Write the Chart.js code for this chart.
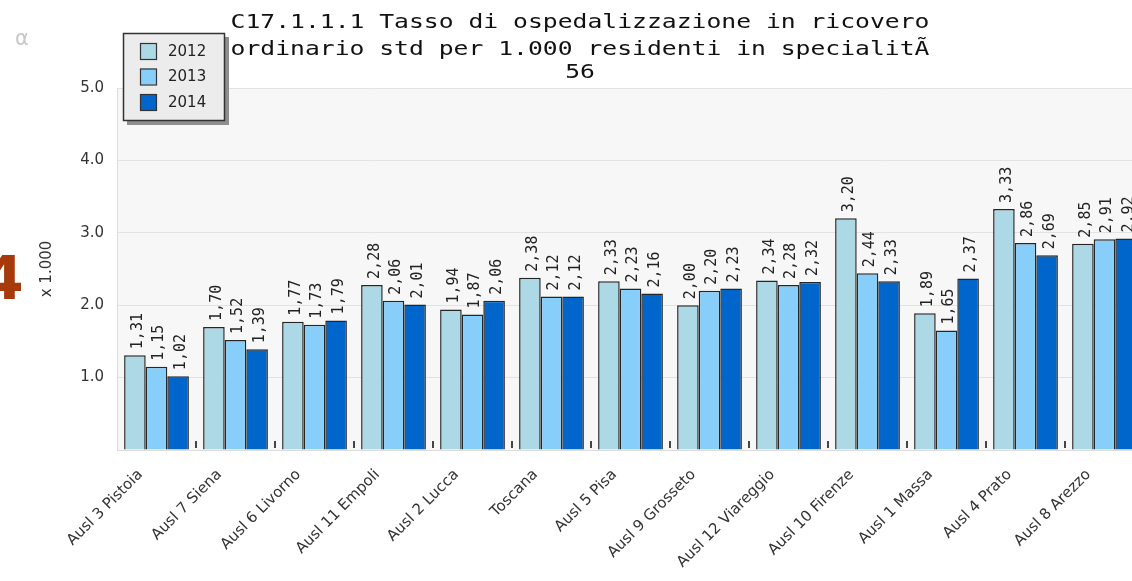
<!DOCTYPE html>
<html>
<head>
<meta charset="utf-8">
<script src="https://cdn.jsdelivr.net/npm/chart.js@4/dist/chart.umd.min.js"></script>
<style>
  body { margin: 0; background: #fff; overflow: hidden; width: 1132px; height: 581px; position: relative; }
  #wrap { position: absolute; left: 0; top: 0; width: 1150px; height: 581px; }
  #four { position: absolute; left: -18px; top: 243px; font: bold 60px "DejaVu Sans", sans-serif; color: #a8390a; }
  #alpha { position: absolute; left: 15px; top: 26px; font: 21px "DejaVu Sans", sans-serif; color: #c8c8c8; }
</style>
</head>
<body>
<div id="wrap"><canvas id="bars" width="1150" height="581"></canvas></div>
<span id="four">4</span>
<span id="alpha">α</span>
<script>
// Chart data
const titleLines = ['C17.1.1.1 Tasso di ospedalizzazione in ricovero',
                    'ordinario std per 1.000 residenti in specialitÃ',
                    '56'];
const areas = ['Ausl 3 Pistoia', 'Ausl 7 Siena', 'Ausl 6 Livorno', 'Ausl 11 Empoli', 'Ausl 2 Lucca',
               'Toscana', 'Ausl 5 Pisa', 'Ausl 9 Grosseto', 'Ausl 12 Viareggio', 'Ausl 10 Firenze',
               'Ausl 1 Massa', 'Ausl 4 Prato', 'Ausl 8 Arezzo'];
const years = ['2012', '2013', '2014'];
const rate2012 = [1.31, 1.70, 1.77, 2.28, 1.94, 2.38, 2.33, 2.00, 2.34, 3.20, 1.89, 3.33, 2.85];
const rate2013 = [1.15, 1.52, 1.73, 2.06, 1.87, 2.12, 2.23, 2.20, 2.28, 2.44, 1.65, 2.86, 2.91];
const rate2014 = [1.02, 1.39, 1.79, 2.01, 2.06, 2.12, 2.16, 2.23, 2.32, 2.33, 2.37, 2.69, 2.92];
const yTicks = [1, 2, 3, 4, 5];

const colors = ['#add8e6', '#87cefa', '#0066cc'];
const series = [rate2012, rate2013, rate2014];

// background, value labels, title and boxed legend
const decor = {
    id: 'decor',
    beforeDraw(chart) {
        const {ctx, chartArea: a} = chart;
        ctx.save();
        ctx.fillStyle = '#f7f7f7';
        ctx.fillRect(a.left, a.top, a.right - a.left, a.bottom - a.top);
        ctx.restore();
    },
    afterDatasetsDraw(chart) {
        const ctx = chart.ctx;
        const a = chart.chartArea;
        const xs = chart.scales.x;
        ctx.save();
        // small marks between the groups
        ctx.strokeStyle = '#444';
        ctx.lineWidth = 2;
        for (let k = 1; k < areas.length; k++) {
            const x = (xs.getPixelForValue(k - 1) + xs.getPixelForValue(k)) / 2;
            ctx.beginPath();
            ctx.moveTo(x, a.bottom - 9);
            ctx.lineTo(x, a.bottom - 2);
            ctx.stroke();
        }
        ctx.font = '15px "DejaVu Sans Mono", monospace';
        ctx.fillStyle = '#222';
        ctx.textAlign = 'left';
        ctx.textBaseline = 'middle';
        chart.data.datasets.forEach((ds, i) => {
            chart.getDatasetMeta(i).data.forEach((bar, j) => {
                ctx.save();
                ctx.translate(bar.x + 3, bar.y - 6);
                ctx.rotate(-Math.PI / 2);
                ctx.fillText(ds.data[j].toFixed(2).replace('.', ','), 0, 0);
                ctx.restore();
            });
        });
        ctx.restore();
    },
    afterDraw(chart) {
        const ctx = chart.ctx;
        // title, stretched like the original
        ctx.save();
        ctx.font = '20px "DejaVu Sans Mono", monospace';
        ctx.fillStyle = '#111';
        ctx.textAlign = 'center';
        ctx.textBaseline = 'alphabetic';
        const base = [28, 55, 78];
        titleLines.forEach((t, i) => {
            ctx.save();
            ctx.translate(580, base[i]);
            ctx.scale(1.235, 1);
            ctx.fillText(t, 0, 0);
            ctx.restore();
        });
        ctx.restore();

        // legend box
        ctx.save();
        ctx.fillStyle = '#8e8e8e';
        ctx.fillRect(127, 37, 102, 88);
        ctx.fillStyle = '#ececec';
        ctx.fillRect(123, 33, 102, 88);
        ctx.strokeStyle = '#333';
        ctx.lineWidth = 1.5;
        ctx.strokeRect(123.5, 33.5, 101, 87);
        ctx.font = '15px "DejaVu Sans", sans-serif';
        ctx.textBaseline = 'middle';
        chart.data.datasets.forEach((ds, i) => {
            const y = 43 + i * 25.5;
            ctx.fillStyle = ds.backgroundColor;
            ctx.fillRect(140, y, 16, 16);
            ctx.strokeStyle = '#333';
            ctx.lineWidth = 1.2;
            ctx.strokeRect(140.5, y + 0.5, 16, 16);
            ctx.fillStyle = '#222';
            ctx.fillText(ds.label, 168, y + 9);
        });
        ctx.restore();
    }
};

new Chart(document.getElementById('bars'), {
    type: 'bar',
    data: {
        labels: areas,
        datasets: years.map((y, i) => ({
            label: y,
            data: series[i],
            backgroundColor: colors[i],
            borderColor: '#262626',
            borderWidth: 1.5,
            categoryPercentage: 0.82,
            barPercentage: 1.0
        }))
    },
    options: {
        responsive: false,
        animation: false,
        layout: { padding: { left: 0, right: 6, top: 88, bottom: 0 } },
        scales: {
            x: {
                grid: { display: false },
                border: { color: '#dddddd' },
                ticks: {
                    minRotation: 45,
                    maxRotation: 45,
                    autoSkip: false,
                    padding: 8,
                    labelOffset: -16,
                    color: '#333',
                    font: { family: 'DejaVu Sans', size: 15 }
                },
                afterFit(scale) { scale.height = 131; }
            },
            y: {
                min: 0,
                max: 5,
                afterBuildTicks(scale) {
                    scale.ticks = [0].concat(yTicks).map(v => ({ value: v }));
                },
                grid: { color: '#e2e2e2', drawTicks: false },
                border: { color: '#dddddd' },
                ticks: {
                    padding: 13,
                    color: '#333',
                    font: { family: 'DejaVu Sans', size: 15 },
                    callback: v => v === 0 ? '' : v.toFixed(1)
                },
                title: {
                    display: true,
                    text: 'x 1.000',
                    color: '#333',
                    font: { family: 'DejaVu Sans', size: 15 },
                    padding: { top: 38, bottom: 0 }
                },
                afterFit(scale) { scale.width = 117; }
            }
        },
        plugins: {
            legend: { display: false },
            tooltip: { enabled: false }
        }
    },
    plugins: [decor]
});
</script>
</body>
</html>
